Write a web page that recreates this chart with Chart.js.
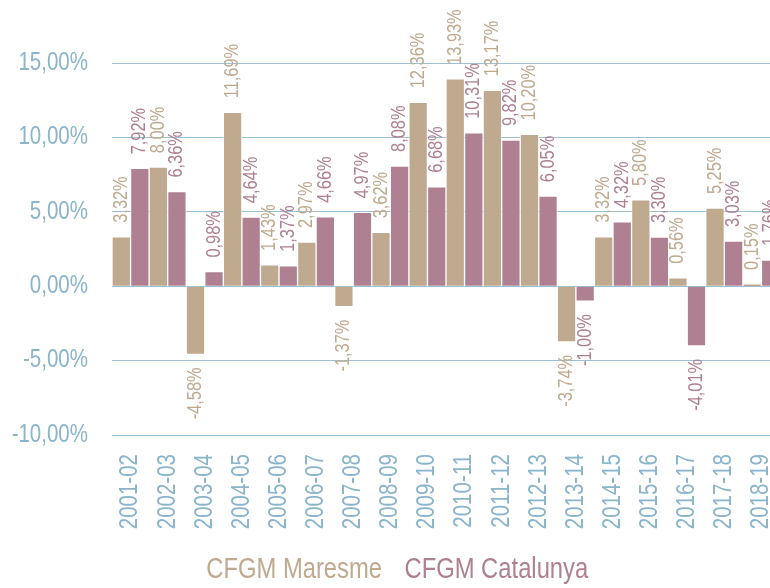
<!DOCTYPE html>
<html>
<head>
<meta charset="utf-8">
<script src="https://cdn.jsdelivr.net/npm/chart.js@4.4.0/dist/chart.umd.min.js"></script>
<style>
  html, body { margin: 0; padding: 0; background: #fff; overflow: hidden; }
  #wrap { width: 780px; height: 588px; }
</style>
</head>
<body>
<div id="wrap"><canvas id="chart" width="780" height="588"></canvas></div>
<script>
const cursos = ['2001-02', '2002-03', '2003-04', '2004-05', '2005-06', '2006-07', '2007-08', '2008-09', '2009-10',
  '2010-11', '2011-12', '2012-13', '2013-14', '2014-15', '2015-16', '2016-17', '2017-18', '2018-19'];
const maresme = [3.32, 8.00, -4.58, 11.69, 1.43, 2.97, -1.37, 3.62, 12.36, 13.93, 13.17, 10.20, -3.74, 3.32, 5.80, 0.56, 5.25, 0.15];
const catalunya = [7.92, 6.36, 0.98, 4.64, 1.37, 4.66, 4.97, 8.08, 6.68, 10.31, 9.82, 6.05, -1.00, 4.32, 3.30, -4.01, 3.03, 1.76];
const yTicks = [-10, -5, 0, 5, 10, 15];

const FONT = "'Liberation Sans', Arial, sans-serif";
const TAN = '#bfa98f';
const MAUVE = '#ae8092';
const BLUE = '#8ab4cc';

// no hi ha Arial Narrow: comprimim el text horitzontalment (en la direcció del text)
const NARROW = 0.82;
const proto = CanvasRenderingContext2D.prototype;
const origFill = proto.fillText;
const origMeasure = proto.measureText;
proto.fillText = function (text, x, y) {
  this.save();
  this.translate(x, y);
  this.scale(NARROW, 1);
  origFill.call(this, text, 0, 0);
  this.restore();
};
proto.measureText = function (text) {
  const m = origMeasure.call(this, text);
  return {
    width: m.width * NARROW,
    actualBoundingBoxAscent: m.actualBoundingBoxAscent,
    actualBoundingBoxDescent: m.actualBoundingBoxDescent,
    actualBoundingBoxLeft: m.actualBoundingBoxLeft * NARROW,
    actualBoundingBoxRight: m.actualBoundingBoxRight * NARROW
  };
};

function pct(v) {
  return v.toFixed(2).replace('.', ',') + '%';
}

// etiquetes verticals sobre/sota cada barra
const valueLabels = {
  id: 'valueLabels',
  afterDatasetsDraw(chart) {
    const ctx = chart.ctx;
    chart.data.datasets.forEach((ds, i) => {
      const meta = chart.getDatasetMeta(i);
      meta.data.forEach((bar, j) => {
        const v = ds.data[j];
        ctx.save();
        ctx.font = '20px ' + FONT;
        ctx.fillStyle = ds.backgroundColor;
        ctx.textBaseline = 'middle';
        if (v >= 0) {
          ctx.translate(bar.x, bar.y - 14);
          ctx.textAlign = 'left';
        } else {
          ctx.translate(bar.x, bar.y + 13);
          ctx.textAlign = 'right';
        }
        ctx.rotate(-Math.PI / 2);
        ctx.fillText(pct(v), 0, 0);
        ctx.restore();
      });
    });
  }
};

new Chart(document.getElementById('chart'), {
  type: 'bar',
  data: {
    labels: cursos,
    datasets: [
      { label: 'CFGM Maresme', data: maresme, backgroundColor: TAN, borderColor: 'rgba(255,255,255,0.55)', borderWidth: 1 },
      { label: 'CFGM Catalunya', data: catalunya, backgroundColor: MAUVE, borderColor: 'rgba(255,255,255,0.55)', borderWidth: 1 }
    ]
  },
  options: {
    responsive: false,
    animation: false,
    datasets: { bar: { barPercentage: 1, categoryPercentage: 1 } },
    layout: { padding: { top: 63, left: 0, right: 0, bottom: -6 } },
    scales: {
      x: {
        grid: { display: false },
        border: { display: false },
        ticks: {
          color: BLUE, font: { family: FONT, size: 25 },
          minRotation: 90, maxRotation: 90, autoSkip: false, padding: 11
        },
        afterFit(scale) {
          scale.height = 112;
          scale.paddingLeft = 0;
          scale.paddingRight = 0;
        }
      },
      y: {
        min: -10,
        max: 15,
        afterBuildTicks(scale) {
          scale.ticks = yTicks.map(v => ({ value: v }));
        },
        grid: { color: '#9cc0d6', lineWidth: 1, drawTicks: false },
        border: { display: false },
        ticks: {
          color: BLUE, font: { family: FONT, size: 25 }, padding: 24,
          callback: v => pct(v)
        },
        afterFit(scale) {
          scale.width = 112;
          scale.paddingTop = 0;
          scale.paddingBottom = 0;
        }
      }
    },
    plugins: {
      tooltip: { enabled: false },
      legend: {
        position: 'bottom',
        align: 'center',
        labels: {
          boxWidth: 0,
          padding: 8,
          font: { family: FONT, size: 29 },
          generateLabels(chart) {
            return chart.data.datasets.map((ds, i) => ({
              text: ds.label,
              fillStyle: 'rgba(0,0,0,0)',
              strokeStyle: 'rgba(0,0,0,0)',
              lineWidth: 0,
              fontColor: ds.backgroundColor,
              datasetIndex: i
            }));
          }
        }
      }
    }
  },
  plugins: [valueLabels]
});
</script>
</body>
</html>
